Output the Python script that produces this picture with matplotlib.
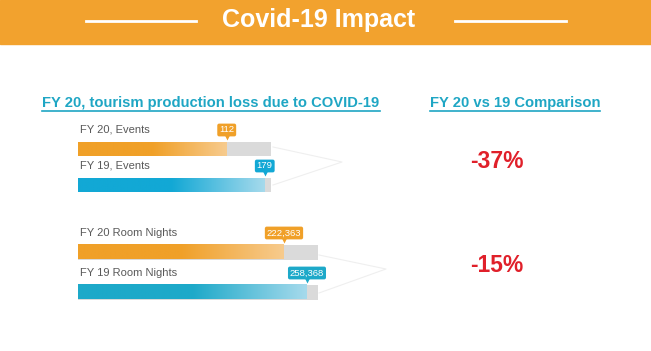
import matplotlib
matplotlib.use('Agg')
import matplotlib.pyplot as plt
import numpy as np
from matplotlib.colors import LinearSegmentedColormap

# data
groups = ['Events', 'Room Nights']
labels_ev = ['FY 20, Events', 'FY 19, Events']
values_ev = [112, 179]
labels_rn = ['FY 20 Room Nights', 'FY 19 Room Nights']
values_rn = [222363, 258368]
value_text_rn = ['222,363', '258,368']
changes = ['-37%', '-15%']

ORANGE = '#F2A22E'
TEAL = '#1FA6C4'
RED = '#E0202A'

W, H = 651, 351
fig = plt.figure(figsize=(6.51, 3.51), dpi=100)
fig.patch.set_facecolor('white')

# background / decoration axes in pixel coordinates
bg = fig.add_axes([0, 0, 1, 1])
bg.set_xlim(0, W)
bg.set_ylim(H, 0)
bg.axis('off')

bg.axhspan(0, 44, color=ORANGE, zorder=0)
bg.text(319, 20, 'Covid-19 Impact', color='white', fontsize=18, fontweight='bold',
        family='Liberation Sans', ha='center', va='center')
bg.plot([86, 196], [21, 21], color='white', lw=2)
bg.plot([455, 566], [21, 21], color='white', lw=2)

t1 = bg.text(211, 103, 'FY 20, tourism production loss due to COVID-19', color=TEAL,
             fontsize=10.6, fontweight='bold', family='Liberation Sans',
             ha='center', va='center')
t2 = bg.text(515, 103, 'FY 20 vs 19 Comparison', color=TEAL,
             fontsize=10.6, fontweight='bold', family='Liberation Sans',
             ha='center', va='center')

# faint connector lines
for (x0, y0, y1, x1, y2) in [(273, 147, 185, 342, 162), (319, 255, 293, 386, 269)]:
    bg.plot([x0, x1, x0], [y0, y2, y1], color='#EFEFEF', lw=0.8, zorder=1)

for txt, y in zip(changes, [162, 266]):
    bg.text(497, y, txt, color=RED, fontsize=16.5, fontweight='bold',
            family='Liberation Sans', ha='center', va='center')


def px_axes(left, right, top, bottom):
    return fig.add_axes([left / W, 1 - bottom / H, (right - left) / W, (bottom - top) / H])


def draw_group(ax, labels, values, vtexts, xlim, unit_px, colors, bar_h_px):
    ax.set_xlim(*xlim)
    ax.set_ylim(2, -1)
    ax.axis('off')
    h = bar_h_px / unit_px
    for i, (lab, v, vt, (c0, c1)) in enumerate(zip(labels, values, vtexts, colors)):
        # grey track
        ax.barh(i, xlim[1] - xlim[0], left=xlim[0], height=h, color='#DADADA', zorder=1)
        # gradient fill
        cmap = LinearSegmentedColormap.from_list('g', [c0, c0, c1])
        grad = np.linspace(0, 1, 256).reshape(1, -1)
        ax.imshow(grad, cmap=cmap, aspect='auto', zorder=2,
                  extent=(xlim[0], v, i + h / 2, i - h / 2))
        ax.text(xlim[0] + (xlim[1] - xlim[0]) * 0.01, i - 19 / unit_px, lab,
                color='#595959', fontsize=8, family='Liberation Sans',
                ha='left', va='center', zorder=3)
        ax.text(v, i - 19 / unit_px, vt, color='white', fontsize=6.8,
                family='Liberation Sans', ha='center', va='center', zorder=4,
                bbox=dict(boxstyle='round,pad=0.2', fc=c0, ec='none'))
        ax.plot(v, i - 12 / unit_px, marker='v', ms=4, color=c0, mec='none', zorder=3)
    ax.set_xlim(*xlim)
    ax.set_ylim(2, -1)


orange_pair = ('#F0A028', '#F7CB8E')
blue_pair = ('#12A8D5', '#A6DAEC')

ax1 = px_axes(78, 271, 149 - 36, 185 + 36)
draw_group(ax1, labels_ev, values_ev, [str(v) for v in values_ev], (-150, 190), 36,
           [orange_pair, blue_pair], 14)

ax2 = px_axes(78, 318, 252 - 40, 292 + 40)
draw_group(ax2, labels_rn, values_rn, value_text_rn, (-100000, 275600), 40,
           [orange_pair, ('#1DA9C9', '#A6DAEC')], 15)

# underline the sub-headings
fig.canvas.draw()
inv = bg.transData.inverted()
for t in (t1, t2):
    bb = t.get_window_extent()
    (xa, ya), (xb, yb) = inv.transform([(bb.x0, bb.y0), (bb.x1, bb.y0)])
    bg.plot([xa, xb], [ya + 0.5, yb + 0.5], color=TEAL, lw=1.2)

fig.savefig('out.png', dpi=100, facecolor='white')
